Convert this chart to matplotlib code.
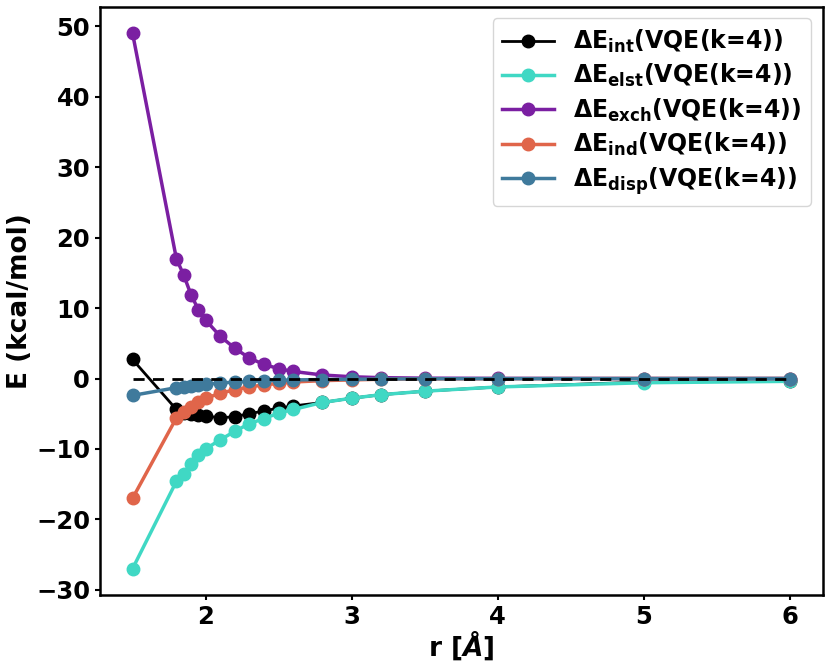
import matplotlib
matplotlib.use("Agg")
import matplotlib.pyplot as plt

# distances (Angstrom)
r = [1.5, 1.8, 1.85, 1.9, 1.95, 2.0, 2.1, 2.2, 2.3, 2.4, 2.5, 2.6,
     2.8, 3.0, 3.2, 3.5, 4.0, 5.0, 6.0]

# SAPT components (kcal/mol)
e_int = [2.7, -4.4, -4.9, -5.1, -5.2, -5.3, -5.6, -5.4, -5.0, -4.6, -4.2, -3.9,
         -3.4, -2.8, -2.3, -1.8, -1.2, -0.5, -0.3]
e_elst = [-27.0, -14.6, -13.6, -12.2, -10.9, -10.0, -8.7, -7.5, -6.4, -5.7, -4.9, -4.4,
          -3.4, -2.8, -2.3, -1.8, -1.2, -0.6, -0.4]
e_exch = [49.0, 17.0, 14.7, 11.9, 9.8, 8.3, 6.0, 4.3, 2.9, 2.0, 1.4, 1.0,
          0.5, 0.25, 0.12, 0.05, 0.02, 0.0, 0.0]
e_ind = [-17.0, -5.6, -4.8, -4.0, -3.4, -2.8, -2.1, -1.6, -1.2, -0.9, -0.7, -0.5,
         -0.3, -0.2, -0.1, -0.05, -0.02, 0.0, 0.0]
e_disp = [-2.4, -1.3, -1.15, -1.0, -0.9, -0.8, -0.65, -0.5, -0.4, -0.32, -0.25, -0.2,
          -0.15, -0.1, -0.07, -0.04, -0.02, -0.01, 0.0]

series = [
    (e_int, "black", r"$\mathbf{\Delta E_{int}}$(VQE(k=4))", 2),
    (e_elst, "#40D8C4", r"$\mathbf{\Delta E_{elst}}$(VQE(k=4))", 2.5),
    (e_exch, "#7B1FA2", r"$\mathbf{\Delta E_{exch}}$(VQE(k=4))", 2.5),
    (e_ind, "#E0654A", r"$\mathbf{\Delta E_{ind}}$(VQE(k=4))", 2.5),
    (e_disp, "#3F7A9C", r"$\mathbf{\Delta E_{disp}}$(VQE(k=4))", 2.5),
]

plt.rcParams["font.weight"] = "bold"

fig, ax = plt.subplots(figsize=(8.31, 6.69), dpi=100)
fig.subplots_adjust(left=0.12, right=0.99, top=0.99, bottom=0.11)

for vals, c, lab, lw in series:
    ax.plot(r, vals, "-o", color=c, label=lab, linewidth=lw, markersize=9)

ax.plot(r, [0] * len(r), "--", color="black", linewidth=2, dashes=(4, 3))

ax.set_xlabel(r"r [$\AA$]", fontsize=19, fontweight="bold", labelpad=0)
ax.set_ylabel("E (kcal/mol)", fontsize=19, fontweight="bold", labelpad=2)
ax.tick_params(labelsize=17.5, width=1.5)
for s in ax.spines.values():
    s.set_linewidth(1.8)

ax.legend(loc="upper right", prop={"weight": "bold", "size": 17},
          labelspacing=0.3, handlelength=2.2)

plt.savefig("out.png", dpi=100)
